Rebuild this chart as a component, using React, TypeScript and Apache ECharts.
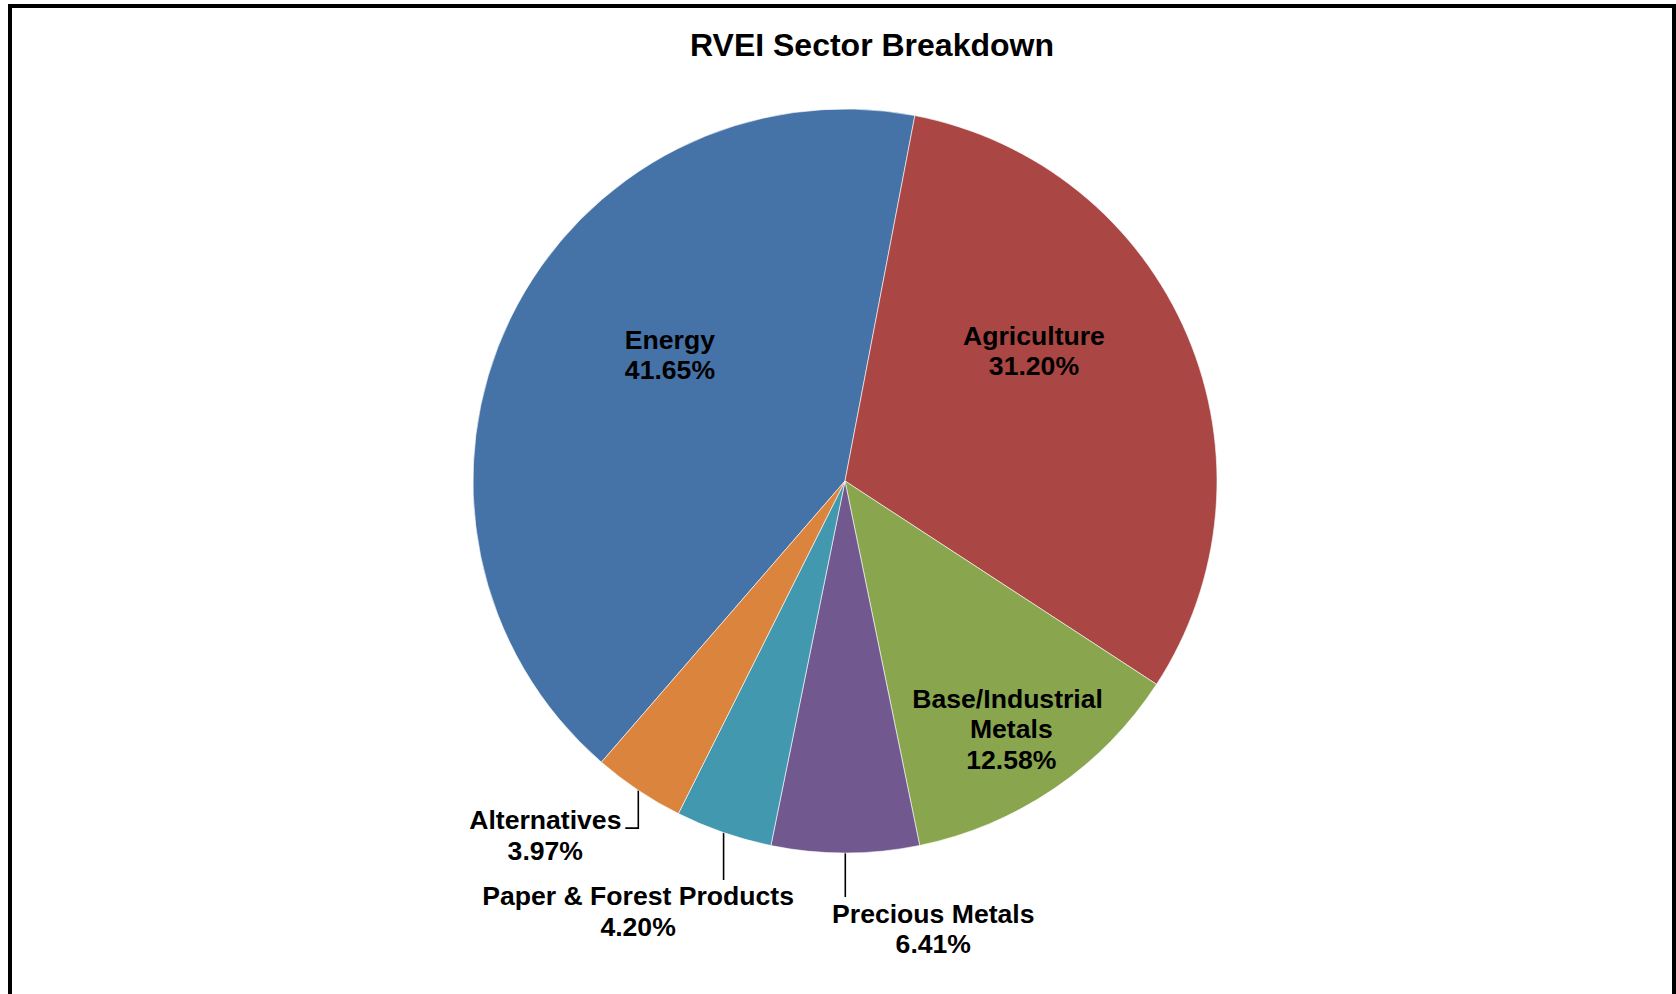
import React, { useEffect, useRef } from 'react';
import * as echarts from 'echarts';

const titleText = 'RVEI Sector Breakdown';
const categories = [
  'Energy',
  'Agriculture',
  'Base/Industrial Metals',
  'Precious Metals',
  'Paper & Forest Products',
  'Alternatives',
];
const weights = [41.65, 31.2, 12.58, 6.41, 4.2, 3.97];
const colors = ['#4572A7', '#AA4643', '#89A54E', '#71588F', '#4198AF', '#DB843D'];

const FONT = '"Liberation Sans", Arial, Helvetica, sans-serif';

// Label placement styling (not data)
const insideIdx = [0, 1, 2];
const insideShift: Record<number, [number, number]> = {
  0: [-5, -43.5],
  1: [15, -56],
  2: [60, 92],
};
const outsidePlacement: Record<number, { off: [number, number]; drop: number; hook: number }> = {
  3: { off: [88, 76], drop: 44, hook: 0 },
  4: { off: [-85.5, 79], drop: 47.4, hook: 0 },
  5: { off: [-93, 45], drop: 37.8, hook: -13 },
};

export default function App() {
  const ref = useRef<HTMLDivElement>(null);

  useEffect(() => {
    if (!ref.current) return;
    const chart = echarts.init(ref.current, undefined, { renderer: 'svg' });

    const data = categories.map((name, i) => {
      const inside = insideIdx.includes(i);
      return {
        name,
        value: weights[i],
        itemStyle: { color: colors[i] },
        label: inside
          ? {
              position: 'inside',
              ...(i === 2 ? { width: 205, overflow: 'break' } : {}),
            }
          : { position: 'outside' },
        labelLine: { show: !inside },
      };
    });

    chart.setOption({
      animation: false,
      backgroundColor: '#ffffff',
      title: {
        text: titleText,
        left: 867,
        top: 24,
        textAlign: 'center',
        textStyle: {
          fontFamily: FONT,
          fontSize: 32,
          fontWeight: 'bold',
          color: '#000',
          lineHeight: 32,
        },
      },
      graphic: [
        {
          type: 'rect',
          shape: { x: 10, y: 6, width: 1664, height: 1000 },
          style: { fill: 'none', stroke: '#000', lineWidth: 4 },
          silent: true,
          z: 100,
        },
      ],
      series: [
        {
          type: 'pie',
          center: [845, 481],
          radius: 372,
          startAngle: 229.1,
          clockwise: true,
          avoidLabelOverlap: false,
          percentPrecision: 2,
          itemStyle: { borderColor: '#ffffff', borderWidth: 0.6 },
          label: {
            show: true,
            fontFamily: FONT,
            fontSize: 26.6,
            fontWeight: 'bold',
            color: '#000',
            lineHeight: 30.5,
            align: 'center',
            formatter: (p: any) => `${p.name}\n${Number(p.value).toFixed(2)}%`,
          },
          labelLine: {
            show: true,
            lineStyle: { color: '#000', width: 1.6 },
          },
          labelLayout: (params: any) => {
            const i = params.dataIndex;
            if (insideShift[i]) {
              const [dx, dy] = insideShift[i];
              return { dx, dy };
            }
            const pl = outsidePlacement[i];
            const pts = params.labelLinePoints;
            if (!pl || !pts) return {};
            const p0 = pts[0];
            const p1 = [p0[0], p0[1] + pl.drop];
            const p2 = [p0[0] + pl.hook, p0[1] + pl.drop];
            return {
              x: p0[0] + pl.off[0],
              y: p0[1] + pl.off[1],
              align: 'center',
              verticalAlign: 'middle',
              labelLinePoints: [p0, p1, p2],
            };
          },
          data,
        },
      ],
    });

    return () => chart.dispose();
  }, []);

  return (
    <div
      ref={ref}
      style={{ position: 'fixed', left: 0, top: 0, width: 1676, height: 994 }}
    />
  );
}
